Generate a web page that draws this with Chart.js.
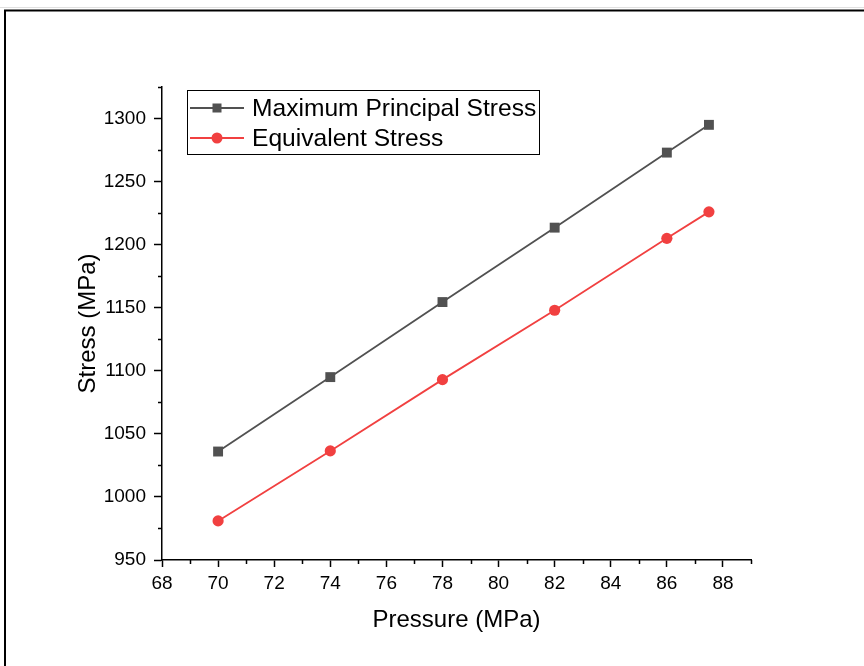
<!DOCTYPE html>
<html>
<head>
<meta charset="utf-8">
<script src="https://cdn.jsdelivr.net/npm/chart.js@4.4.0/dist/chart.umd.min.js"></script>
<style>
html,body{margin:0;padding:0;background:#fff;}
#wrap{width:864px;height:666px;position:relative;}
</style>
</head>
<body>
<div id="wrap"><canvas id="c" width="864" height="666"></canvas></div>
<script>
// ---- data ----
const pressure = [70, 74, 78, 82, 86, 87.5];
const maxPrincipal = [1036, 1095, 1154.5, 1213.5, 1273, 1295];
const equivalent = [981, 1036.5, 1093, 1148, 1205, 1226];
const seriesNames = ['Maximum Principal Stress', 'Equivalent Stress'];
const xTicks = [68, 70, 72, 74, 76, 78, 80, 82, 84, 86, 88];
const xMinorTicks = [69, 71, 73, 75, 77, 79, 81, 83, 85, 87, 89];
const yTicks = [950, 1000, 1050, 1100, 1150, 1200, 1250, 1300];
const yMinorTicks = [975, 1025, 1075, 1125, 1175, 1225, 1275, 1325];
const xLabel = 'Pressure (MPa)';
const yLabel = 'Stress (MPa)';

const FONT = "'Liberation Sans', Arial, sans-serif";
const GRAY = '#515151';
const RED = '#F14040';

const toPts = (xs, ys) => xs.map((x, i) => ({x: x, y: ys[i]}));

const framePlugin = {
  id: 'frame',
  beforeDraw(chart) {
    const ctx = chart.ctx;
    ctx.save();
    ctx.fillStyle = '#fff';
    ctx.fillRect(0, 0, chart.width, chart.height);
    ctx.strokeStyle = '#e0e0e0';
    ctx.lineWidth = 1;
    ctx.beginPath();
    ctx.moveTo(0, 7.5); ctx.lineTo(chart.width, 7.5);
    ctx.stroke();
    ctx.strokeStyle = '#000';
    ctx.lineWidth = 2;
    ctx.strokeRect(5, 10.5, chart.width + 20, chart.height + 20);
    ctx.restore();
  }
};

const minorTickPlugin = {
  id: 'minorTicks',
  afterDraw(chart) {
    const ctx = chart.ctx;
    const xs = chart.scales.x, ys = chart.scales.y;
    const ca = chart.chartArea;
    ctx.save();
    ctx.strokeStyle = '#000';
    ctx.lineWidth = 1.5;
    ctx.beginPath();
    xMinorTicks.forEach(v => {
      const px = Math.round(xs.getPixelForValue(v)) + 0.5;
      ctx.moveTo(px, ca.bottom); ctx.lineTo(px, ca.bottom + 4);
    });
    yMinorTicks.forEach(v => {
      const py = Math.round(ys.getPixelForValue(v)) + 0.5;
      ctx.moveTo(ca.left, py); ctx.lineTo(ca.left - 4, py);
    });
    ctx.stroke();
    ctx.restore();
  }
};

const legendPlugin = {
  id: 'boxLegend',
  afterDraw(chart) {
    const ctx = chart.ctx;
    const ca = chart.chartArea;
    const left = ca.left + 25, top = ca.top + 3;
    const w = 352, h = 64;
    ctx.save();
    ctx.strokeStyle = '#000';
    ctx.lineWidth = 1;
    ctx.strokeRect(left + 0.5, top + 0.5, w, h);
    chart.data.datasets.forEach((ds, i) => {
      const cy = top + 18 + i * 30;
      ctx.strokeStyle = ds.borderColor;
      ctx.lineWidth = 1.8;
      ctx.beginPath();
      ctx.moveTo(left + 3, cy); ctx.lineTo(left + 57, cy);
      ctx.stroke();
      ctx.fillStyle = ds.pointBackgroundColor;
      if (ds.pointStyle === 'rect') {
        ctx.fillRect(left + 30 - 4.5, cy - 4.5, 9, 9);
      } else {
        ctx.beginPath();
        ctx.arc(left + 30, cy, 5.5, 0, Math.PI * 2);
        ctx.fill();
      }
      ctx.fillStyle = '#000';
      ctx.font = '24.6px ' + FONT;
      ctx.textBaseline = 'middle';
      ctx.textAlign = 'left';
      ctx.fillText(ds.label, left + 65, cy + 1);
    });
    ctx.restore();
  }
};

new Chart(document.getElementById('c'), {
  type: 'line',
  data: {
    datasets: [
      {
        label: seriesNames[0],
        data: toPts(pressure, maxPrincipal),
        borderColor: GRAY,
        backgroundColor: GRAY,
        pointBackgroundColor: GRAY,
        pointBorderColor: GRAY,
        pointStyle: 'rect',
        pointRadius: 7,
        pointBorderWidth: 0,
        borderWidth: 1.8,
        tension: 0
      },
      {
        label: seriesNames[1],
        data: toPts(pressure, equivalent),
        borderColor: RED,
        backgroundColor: RED,
        pointBackgroundColor: RED,
        pointBorderColor: RED,
        pointStyle: 'circle',
        pointRadius: 5.6,
        pointBorderWidth: 0,
        borderWidth: 1.8,
        tension: 0
      }
    ]
  },
  options: {
    responsive: false,
    animation: false,
    devicePixelRatio: 1,
    layout: { padding: { left: 74, top: 87, right: 113, bottom: 27 } },
    plugins: { legend: { display: false }, tooltip: { enabled: false } },
    scales: {
      x: {
        type: 'linear',
        min: 68, max: 89,
        afterBuildTicks: s => { s.ticks = xTicks.map(v => ({value: v})); },
        afterFit: s => { s.height = 79; },
        ticks: { color: '#000', font: { family: FONT, size: 19 }, padding: 5, maxRotation: 0,
                 callback: v => String(v) },
        grid: { drawOnChartArea: false, drawTicks: true, tickLength: 7, tickColor: '#000', tickWidth: 1.5 },
        border: { color: '#000', width: 1.5 },
        title: { display: true, text: xLabel, color: '#000', font: { family: FONT, size: 24 }, padding: { top: 4, bottom: 4 } }
      },
      y: {
        type: 'linear',
        min: 950, max: 1325,
        afterBuildTicks: s => { s.ticks = yTicks.map(v => ({value: v})); },
        afterFit: s => { s.width = 88; },
        ticks: { color: '#000', font: { family: FONT, size: 19 }, padding: 8,
                 callback: v => String(v) },
        grid: { drawOnChartArea: false, drawTicks: true, tickLength: 8, tickColor: '#000', tickWidth: 1.5 },
        border: { color: '#000', width: 1.5 },
        title: { display: true, text: yLabel, color: '#000', font: { family: FONT, size: 24 }, padding: { top: 0, bottom: 0 } }
      }
    }
  },
  plugins: [framePlugin, minorTickPlugin, legendPlugin]
});
</script>
</body>
</html>
